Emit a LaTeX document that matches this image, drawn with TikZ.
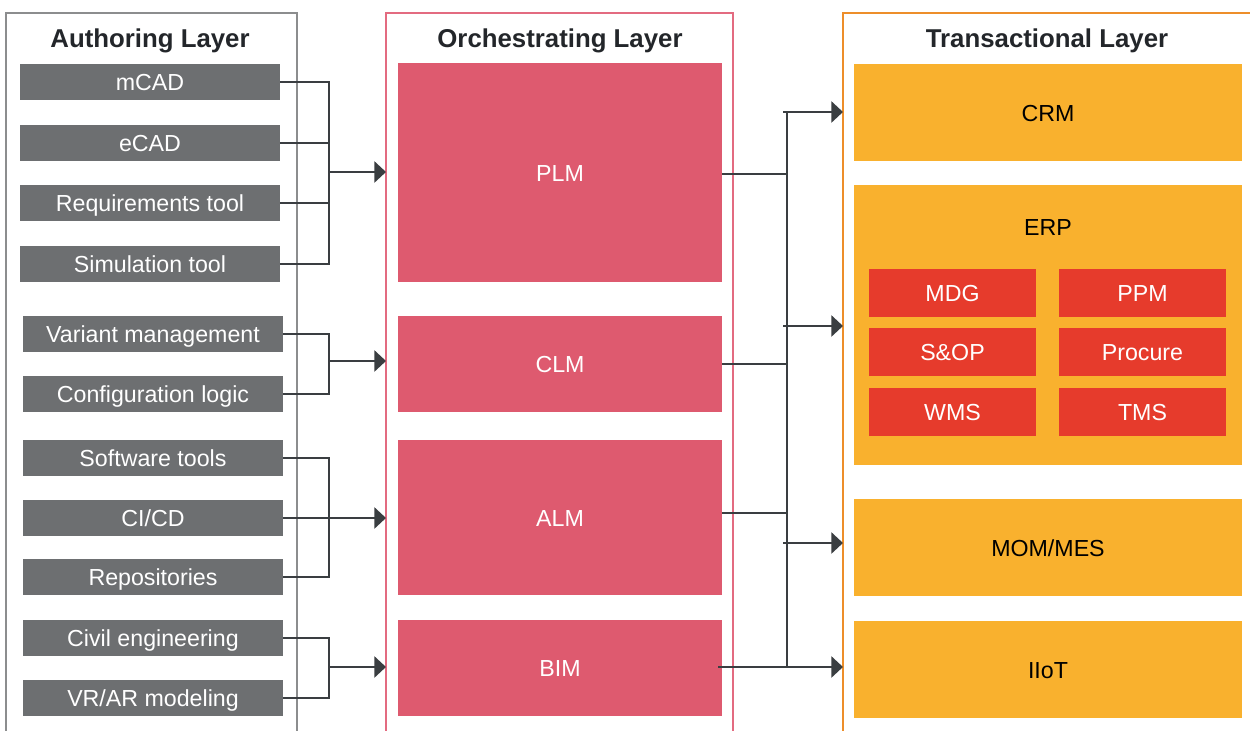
\documentclass[tikz,border=0pt]{standalone}
\usepackage{fontspec}
\setmainfont{Liberation Sans}
\usetikzlibrary{arrows.meta}

\definecolor{toolgray}{HTML}{6D6F71}
\definecolor{framegray}{HTML}{8C8D8E}
\definecolor{orchpink}{HTML}{DE5A6F}
\definecolor{framepink}{HTML}{E36B80}
\definecolor{transorange}{HTML}{F9B12E}
\definecolor{frameorange}{HTML}{ED8E2A}
\definecolor{modred}{HTML}{E63B2C}
\definecolor{wire}{HTML}{3A3E41}
\definecolor{headtext}{HTML}{23262A}

% box from corner (x1,y1) to corner (x2,y2), in pixel units
\newcommand\pxbox[7]{%
  \node[#6, minimum width={(#4-#2)*0.5pt}, minimum height={(#5-#3)*0.5pt}]
    (#1) at ({(#2+#4)/2},{(#3+#5)/2}) {#7};}

\tikzset{
  boxbase/.style={inner sep=0pt, outer sep=0pt, text height=0.9em, text depth=0pt,
    font=\fontsize{11.6}{13}\selectfont},
  toolbox/.style={boxbase, fill=toolgray, text=white},
  orchbox/.style={boxbase, fill=orchpink, text=white},
  transbox/.style={boxbase, fill=transorange, text=black},
  modbox/.style={boxbase, fill=modred, text=white},
  frameA/.style={draw=framegray, line width=1pt, inner sep=0pt, outer sep=0pt},
  frameO/.style={draw=framepink, line width=1pt, inner sep=0pt, outer sep=0pt},
  frameT/.style={draw=frameorange, line width=1pt, inner sep=0pt, outer sep=0pt},
  header/.style={anchor=base, inner sep=0pt, text=headtext,
    font=\fontsize{12.9}{15}\selectfont\bfseries},
  wireline/.style={draw=wire, line width=1.15pt},
  wirearrow/.style={wireline, -{Triangle[length=5.8pt,width=10.5pt]}},
}

\begin{document}
\begin{tikzpicture}[x=0.5pt, y=-0.5pt]
\useasboundingbox (0,0) rectangle (1250,731);
\clip (0,0) rectangle (1250,731);

% layer frames (open at the bottom / right edge)
\pxbox{authL}{6}{13}{297}{760}{frameA}{}
\pxbox{orchL}{386}{13}{733}{760}{frameO}{}
\pxbox{transL}{843}{13}{1290}{760}{frameT}{}

\node[header] (authH) at (150,48) {Authoring Layer};
\node[header] (orchH) at (560,48) {Orchestrating Layer};
\node[header] (transH) at (1047,48) {Transactional Layer};

% authoring tools
\pxbox{mcad}{20}{64}{280}{100}{toolbox}{mCAD}
\pxbox{ecad}{20}{125}{280}{161}{toolbox}{eCAD}
\pxbox{req}{20}{185}{280}{221}{toolbox}{Requirements tool}
\pxbox{sim}{20}{246}{280}{282}{toolbox}{Simulation tool}
\pxbox{variant}{23}{316}{283}{352}{toolbox}{Variant management}
\pxbox{config}{23}{376}{283}{412}{toolbox}{Configuration logic}
\pxbox{soft}{23}{440}{283}{476}{toolbox}{Software tools}
\pxbox{cicd}{23}{500}{283}{536}{toolbox}{CI/CD}
\pxbox{repo}{23}{559}{283}{595}{toolbox}{Repositories}
\pxbox{civil}{23}{620}{283}{656}{toolbox}{Civil engineering}
\pxbox{vrar}{23}{680}{283}{716}{toolbox}{VR/AR modeling}

% orchestrating systems
\pxbox{plm}{398}{63}{722}{282}{orchbox}{PLM}
\pxbox{clm}{398}{316}{722}{412}{orchbox}{CLM}
\pxbox{alm}{398}{440}{722}{595}{orchbox}{ALM}
\pxbox{bim}{398}{620}{722}{716}{orchbox}{BIM}

% transactional systems
\pxbox{crm}{854}{64}{1242}{161}{transbox}{CRM}
\pxbox{erp}{854}{185}{1242}{465}{transbox}{}
\node[boxbase, text=black] (erpL) at (1048,227) {ERP};
\pxbox{mdg}{869}{269}{1036}{317}{modbox}{MDG}
\pxbox{ppm}{1059}{269}{1226}{317}{modbox}{PPM}
\pxbox{sop}{869}{328}{1036}{376}{modbox}{S\&OP}
\pxbox{proc}{1059}{328}{1226}{376}{modbox}{Procure}
\pxbox{wms}{869}{388}{1036}{436}{modbox}{WMS}
\pxbox{tms}{1059}{388}{1226}{436}{modbox}{TMS}
\pxbox{mom}{854}{499}{1242}{596}{transbox}{MOM/MES}
\pxbox{iiot}{854}{621}{1242}{718}{transbox}{IIoT}

% junction points of the left-hand bundles
\coordinate (jplm) at (329,172);
\coordinate (jclm) at (329,361);
\coordinate (jalm) at (329,518);
\coordinate (jbim) at (329,667);

\foreach \t in {mcad,ecad,req,sim} \draw[wireline] (\t.east) -| (jplm);
\foreach \t in {variant,config} \draw[wireline] (\t.east) -| (jclm);
\foreach \t in {soft,repo} \draw[wireline] (\t.east) -| (jalm);
\foreach \t in {civil,vrar} \draw[wireline] (\t.east) -| (jbim);
\draw[wireline] (cicd.east) -- (jalm);

\foreach \j in {jplm,jclm,jalm,jbim} \draw[wirearrow] (\j) -- (\j -| orchL.west);

% distribution bus on the right
\coordinate (bustop) at (787,112);
\coordinate (busbot) at (787,667);
\draw[wireline] (bustop) -- (busbot);

\draw[wireline] (plm.east |- 0,174) -- (bustop |- 0,174);
\draw[wireline] (clm.east |- 0,364) -- (bustop |- 0,364);
\draw[wireline] (alm.east |- 0,513) -- (bustop |- 0,513);

\coordinate (tcrm) at (787,112);
\coordinate (terp) at (787,326);
\coordinate (tmom) at (787,543);
\draw[wirearrow] ([xshift=-2pt]tcrm) -- (tcrm -| transL.west);
\draw[wirearrow] ([xshift=-2pt]terp) -- (terp -| transL.west);
\draw[wirearrow] ([xshift=-2pt]tmom) -- (tmom -| transL.west);
\draw[wirearrow] ([xshift=-2pt]bim.east |- busbot) -- (busbot -| transL.west);
\end{tikzpicture}
\end{document}
